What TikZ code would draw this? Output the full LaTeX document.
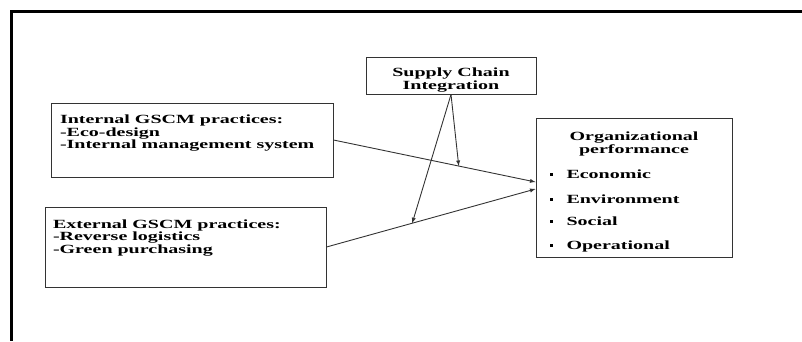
\documentclass[tikz,border=0pt]{standalone}
\usepackage{fontspec}
\setmainfont{Liberation Serif}[FakeStretch=1.6]

\begin{document}
\begin{tikzpicture}
    [
    x=1pt, y=-1pt,
    box/.style={draw=black!80,line width=1pt,rectangle,inner sep=0pt,font=\bfseries\fontsize{12.5}{12.5}\selectfont},
    link/.style={-latex,draw=black!80,line width=0.9pt}
    ]
    \useasboundingbox (0,0) rectangle (802,341);
    \draw [line width=3pt] (802,11) -- (11,11) -- (11,341);
    \node (internal) at (192,140) [box,minimum width=282,minimum height=74]
      {\parbox[t][50pt][t]{264pt}{Internal GSCM practices:\\-Eco-design\\-Internal management system}};
    \node (external) at (185.5,247) [box,minimum width=281,minimum height=80]
      {\parbox[t][55pt][t]{265pt}{External GSCM practices:\\-Reverse logistics\\-Green purchasing}};
    \node (sci) at (451,75.5) [box,minimum width=170,minimum height=37]
      {\parbox[t][15pt][t]{166pt}{\centering Supply Chain\\Integration}};
    \node (perf) at (634,187.5) [box,minimum width=196,minimum height=139]
      {\parbox[t][111pt][t]{180pt}{\centering Organizational\\performance\par
       \raggedright\vspace{12.5pt}
       \hspace*{6pt}\rule[2.5pt]{2.5pt}{2.5pt}\hspace{14pt}Economic\\[12.5pt]
       \hspace*{6pt}\rule[2.5pt]{2.5pt}{2.5pt}\hspace{14pt}Environment\\[9.5pt]
       \hspace*{6pt}\rule[2.5pt]{2.5pt}{2.5pt}\hspace{14pt}Social\\[11.5pt]
       \hspace*{6pt}\rule[2.5pt]{2.5pt}{2.5pt}\hspace{14pt}Operational}};
    \draw [link] (internal.east) -- coordinate [pos=0.62] (inmid) ([yshift=5.5pt]perf.west);
    \draw [link] (external.east) -- coordinate [pos=0.41] (exmid) ([yshift=-1.5pt]perf.west);
    \draw [link] (sci.south) -- (inmid);
    \draw [link] (sci.south) -- (exmid);
  \end{tikzpicture}
\end{document}
